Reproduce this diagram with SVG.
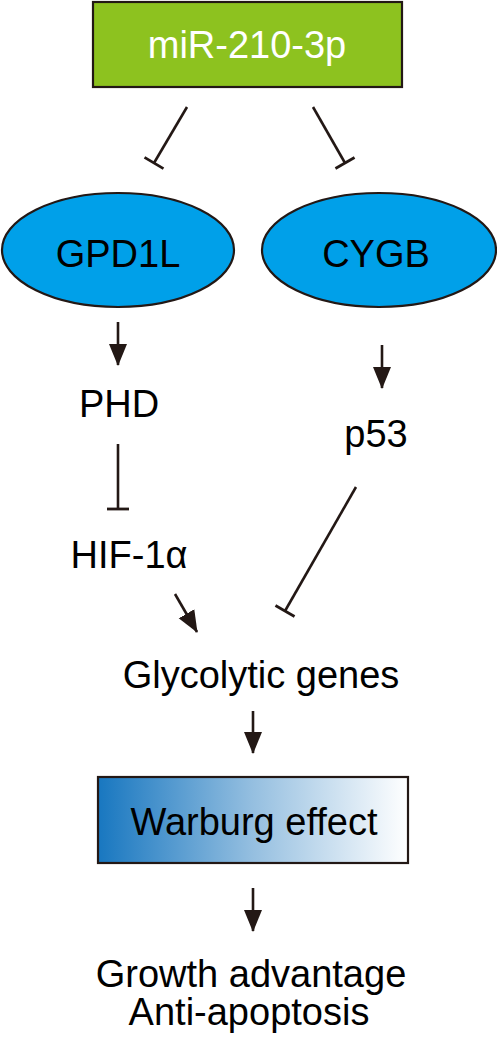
<svg xmlns="http://www.w3.org/2000/svg" width="497" height="1040" viewBox="0 0 497 1040">
<defs>
<style>
text{font-family:"Liberation Sans",Arial,sans-serif;font-size:38px;text-anchor:middle;fill:#000}
.w{fill:#fff}
.c{stroke:#231815;stroke-width:2.6;fill:none}
.nd{stroke:#231815;stroke-width:2.2}
</style>
<linearGradient id="wg" x1="0" y1="0" x2="1" y2="0">
<stop offset="0" stop-color="#1877c0"/>
<stop offset="0.5" stop-color="#95bfe0"/>
<stop offset="1" stop-color="#ffffff"/>
</linearGradient>
<marker id="ar" markerUnits="userSpaceOnUse" viewBox="0 0 22 20" refX="21" refY="10" markerWidth="22" markerHeight="20" orient="auto">
<path d="M0,1 L22,10 L0,19 Z" fill="#231815"/>
</marker>
<marker id="tb" markerUnits="userSpaceOnUse" viewBox="-2 -12 4 24" refX="0" refY="0" markerWidth="4" markerHeight="24" orient="auto">
<path d="M0,-11 L0,11" stroke="#231815" stroke-width="2.8"/>
</marker>
</defs>
<g id="mir">
<rect class="nd" x="93" y="2" width="309" height="85" fill="#8dc21f"/>
<text class="w" x="247" y="58">miR-210-3p</text>
</g>
<g id="gpd1l">
<ellipse class="nd" cx="118" cy="250" rx="116" ry="57" fill="#00a0e9"/>
<text x="118" y="267">GPD1L</text>
</g>
<g id="cygb">
<ellipse class="nd" cx="379" cy="250" rx="117" ry="57" fill="#00a0e9"/>
<text x="376" y="267">CYGB</text>
</g>
<g id="phd"><text x="119" y="417">PHD</text></g>
<g id="p53"><text x="376" y="447">p53</text></g>
<g id="hif"><text x="129" y="568">HIF-1α</text></g>
<g id="glyco"><text x="261" y="688">Glycolytic genes</text></g>
<g id="warburg">
<rect class="nd" x="98" y="777" width="310" height="86" fill="url(#wg)"/>
<text x="254" y="835">Warburg effect</text>
</g>
<g id="outcome">
<text x="251" y="987">Growth advantage</text>
<text x="249" y="1025">Anti-apoptosis</text>
</g>
<g id="connectors">
<line class="c" x1="187" y1="107" x2="154" y2="163" marker-end="url(#tb)"/>
<line class="c" x1="313" y1="107" x2="345" y2="163" marker-end="url(#tb)"/>
<line class="c" x1="118" y1="322" x2="118" y2="365" marker-end="url(#ar)"/>
<line class="c" x1="382" y1="345" x2="382" y2="388" marker-end="url(#ar)"/>
<line class="c" x1="118" y1="444" x2="118" y2="509" marker-end="url(#tb)"/>
<line class="c" x1="356" y1="487" x2="285" y2="611" marker-end="url(#tb)"/>
<line class="c" x1="175" y1="594" x2="197" y2="632" marker-end="url(#ar)"/>
<line class="c" x1="253" y1="711" x2="253" y2="753" marker-end="url(#ar)"/>
<line class="c" x1="253" y1="888" x2="253" y2="931" marker-end="url(#ar)"/>
</g>
</svg>
